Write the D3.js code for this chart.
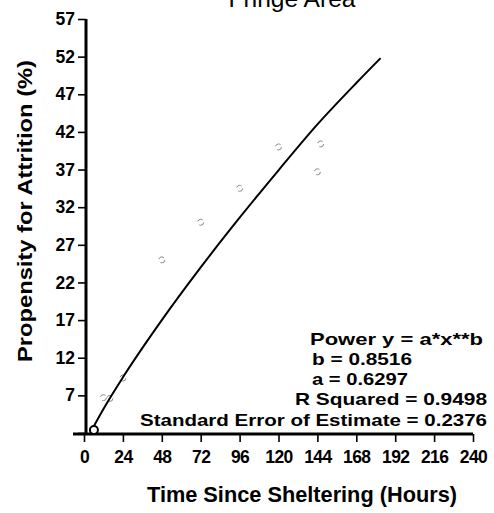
<!DOCTYPE html>
<html><head><meta charset="utf-8">
<script src="https://cdn.jsdelivr.net/npm/d3@7"></script>
<style>body{margin:0;background:#fff} svg{display:block}</style>
</head><body>
<svg id="c" width="494" height="513"></svg>
<script>
// ---- data ----
const chartTitle = "Fringe Area";
const xLabel = "Time Since Sheltering (Hours)";
const yLabel = "Propensity for Attrition (%)";
const xTicks = [0, 24, 48, 72, 96, 120, 144, 168, 192, 216, 240];
const yTicks = [2, 7, 12, 17, 22, 27, 32, 37, 42, 47, 52, 57];
const yTickLabels = ["", "7", "12", "17", "22", "27", "32", "37", "42", "47", "52", "57"];
// fitted curve
const fitHours  = [5, 12, 24, 48, 72, 96, 120, 144, 168, 183];
const fitValues = [2.5, 5.2, 9.4, 17.0, 24.0, 30.6, 36.9, 43.0, 48.5, 51.8];
// faint observed points
const obsHours  = [5.5, 12, 16, 24, 48, 72, 96, 120, 144, 146];
const obsValues = [2.4, 6.7, 6.6, 9.3, 25.0, 30.0, 34.5, 40.0, 36.7, 40.4];
const statLines = ["Power y = a*x**b", "b = 0.8516", "a = 0.6297", "R Squared = 0.9498", "Standard Error of Estimate = 0.2376"];

// ---- drawing ----
const svg = d3.select("#c");
const font = "'Liberation Sans', Arial, Helvetica, sans-serif";
const x = d3.scaleLinear().domain([0, 240]).range([84, 473]);
const y = d3.scaleLinear().domain([2, 57]).range([433, 19]);
const axisX = 86;

// title (partially cut off at top, as in the source)
svg.append("text").attr("x", 292).attr("y", 7).attr("text-anchor", "middle")
  .attr("font-family", font).attr("font-size", 24).attr("textLength", 127)
  .attr("lengthAdjust", "spacingAndGlyphs").text(chartTitle);

// y axis
const gy = svg.append("g").attr("transform", `translate(${axisX},0)`)
  .call(d3.axisLeft(y).tickValues(yTicks).tickFormat((d, i) => yTickLabels[i]).tickSize(8).tickPadding(3));
gy.select(".domain").remove();
gy.selectAll(".tick line").attr("stroke", "#000").attr("stroke-width", 1.6);
gy.selectAll(".tick text").attr("font-family", font).attr("font-size", 17.5)
  .attr("font-weight", "bold").attr("fill", "#000");
svg.append("line").attr("x1", axisX).attr("x2", axisX).attr("y1", y(57)).attr("y2", 435)
  .attr("stroke", "#000").attr("stroke-width", 3);

// x axis
const gx = svg.append("g").attr("transform", `translate(0,434)`)
  .call(d3.axisBottom(x).tickValues(xTicks).tickSize(8).tickPadding(8));
gx.select(".domain").remove();
gx.selectAll(".tick line").attr("stroke", "#000").attr("stroke-width", 1.6);
gx.selectAll(".tick text").attr("font-family", font).attr("font-size", 17.5)
  .attr("font-weight", "bold").attr("fill", "#000").attr("dy", "0.72em")
  .attr("letter-spacing", "-0.6");
svg.append("line").attr("x1", 73).attr("x2", x(240)).attr("y1", 434).attr("y2", 434)
  .attr("stroke", "#000").attr("stroke-width", 3);

// axis titles
svg.append("text").attr("x", 302).attr("y", 502).attr("text-anchor", "middle")
  .attr("font-family", font).attr("font-size", 22).attr("font-weight", "bold")
  .attr("textLength", 310).attr("lengthAdjust", "spacingAndGlyphs").text(xLabel);
svg.append("text").attr("transform", "translate(32,211) rotate(-90)").attr("text-anchor", "middle")
  .attr("font-family", font).attr("font-size", 21).attr("font-weight", "bold")
  .attr("textLength", 302).attr("lengthAdjust", "spacingAndGlyphs").text(yLabel);

// observed points (faint)
svg.append("g").selectAll("circle").data(obsHours).join("circle")
  .attr("cx", (d) => x(d)).attr("cy", (d, i) => y(obsValues[i])).attr("r", 3)
  .attr("fill", "none").attr("stroke", "#888").attr("stroke-width", 1)
  .attr("stroke-dasharray", "6,4");

// fitted curve
const line = d3.line().x((d) => x(d)).y((d, i) => y(fitValues[i])).curve(d3.curveMonotoneX);
svg.append("path").datum(fitHours).attr("d", line).attr("fill", "none")
  .attr("stroke", "#000").attr("stroke-width", 2);

// origin circle
svg.append("circle").attr("cx", x(obsHours[0]) + 1).attr("cy", 430).attr("r", 4)
  .attr("fill", "#fff").attr("stroke", "#000").attr("stroke-width", 2);

// stats box
const statPos = [
  {x: 310, y: 345, a: "start", w: 173},
  {x: 312, y: 365, a: "start", w: 100},
  {x: 312, y: 385, a: "start", w: 96},
  {x: 487, y: 405, a: "end", w: 192},
  {x: 487, y: 426, a: "end", w: 347}
];
svg.append("g").selectAll("text").data(statLines).join("text")
  .attr("x", (d, i) => statPos[i].x).attr("y", (d, i) => statPos[i].y)
  .attr("text-anchor", (d, i) => statPos[i].a)
  .attr("font-family", font).attr("font-size", 17).attr("font-weight", "bold")
  .attr("textLength", (d, i) => statPos[i].w).attr("lengthAdjust", "spacingAndGlyphs")
  .text((d) => d);
</script>
</body></html>
